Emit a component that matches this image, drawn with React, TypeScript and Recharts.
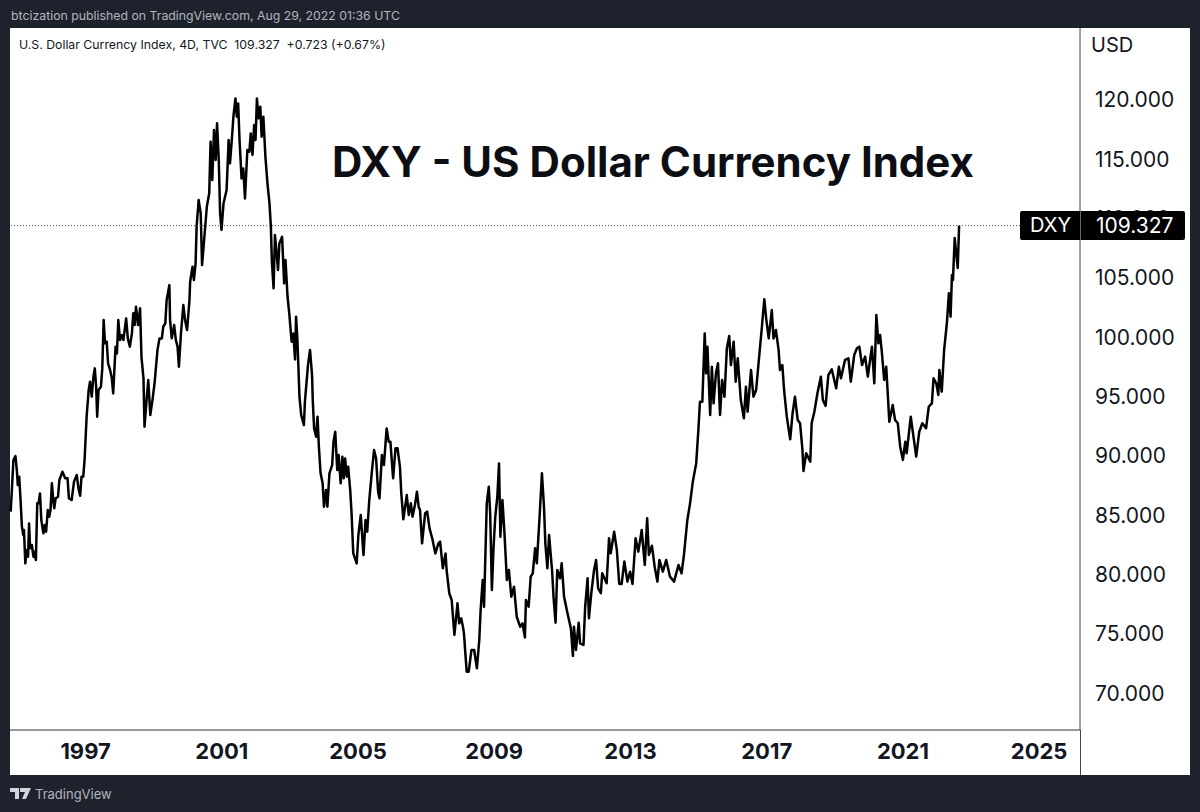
import { Line, LineChart, ReferenceLine, XAxis, YAxis } from 'recharts'

const years = [
  1994.8, 1994.84, 1994.88, 1994.94, 1994.98, 1995.01, 1995.05, 1995.09, 1995.13, 1995.17, 1995.19, 1995.23, 1995.27, 1995.31, 1995.34, 1995.37, 1995.42, 1995.47, 1995.49, 1995.54,
  1995.58, 1995.62, 1995.66, 1995.7, 1995.76, 1995.8, 1995.84, 1995.89, 1995.93, 1995.97, 1996.01, 1996.05, 1996.08, 1996.12, 1996.19, 1996.23, 1996.32, 1996.4, 1996.47, 1996.51,
  1996.59, 1996.66, 1996.74, 1996.79, 1996.84, 1996.88, 1996.93, 1996.97, 1997.03, 1997.09, 1997.13, 1997.18, 1997.23, 1997.27, 1997.31, 1997.34, 1997.38, 1997.45, 1997.49, 1997.53,
  1997.57, 1997.62, 1997.66, 1997.72, 1997.77, 1997.81, 1997.88, 1997.92, 1997.96, 1998.01, 1998.07, 1998.11, 1998.19, 1998.24, 1998.3, 1998.36, 1998.4, 1998.44, 1998.48, 1998.54,
  1998.6, 1998.64, 1998.7, 1998.73, 1998.79, 1998.84, 1998.9, 1998.97, 1999.03, 1999.11, 1999.17, 1999.24, 1999.28, 1999.34, 1999.38, 1999.46, 1999.48, 1999.53, 1999.6, 1999.65,
  1999.7, 1999.74, 1999.8, 1999.87, 1999.92, 1999.98, 2000.05, 2000.07, 2000.14, 2000.18, 2000.23, 2000.26, 2000.32, 2000.38, 2000.42, 2000.48, 2000.56, 2000.63, 2000.67, 2000.72,
  2000.77, 2000.82, 2000.86, 2000.91, 2000.95, 2000.99, 2001.05, 2001.14, 2001.2, 2001.24, 2001.3, 2001.34, 2001.4, 2001.44, 2001.48, 2001.52, 2001.58, 2001.63, 2001.68, 2001.75,
  2001.81, 2001.85, 2001.9, 2001.95, 2001.99, 2002.03, 2002.08, 2002.13, 2002.17, 2002.22, 2002.28, 2002.34, 2002.4, 2002.44, 2002.47, 2002.52, 2002.56, 2002.61, 2002.65, 2002.69,
  2002.77, 2002.83, 2002.87, 2002.93, 2002.98, 2003.05, 2003.1, 2003.15, 2003.18, 2003.22, 2003.28, 2003.33, 2003.41, 2003.44, 2003.53, 2003.59, 2003.65, 2003.67, 2003.71, 2003.77,
  2003.81, 2003.85, 2003.9, 2003.96, 2004.0, 2004.06, 2004.1, 2004.16, 2004.24, 2004.28, 2004.33, 2004.39, 2004.43, 2004.49, 2004.54, 2004.58, 2004.62, 2004.67, 2004.71, 2004.77,
  2004.81, 2004.86, 2004.96, 2005.01, 2005.08, 2005.16, 2005.22, 2005.27, 2005.33, 2005.41, 2005.47, 2005.53, 2005.59, 2005.63, 2005.7, 2005.76, 2005.84, 2005.9, 2005.95, 2006.03,
  2006.1, 2006.16, 2006.23, 2006.27, 2006.33, 2006.43, 2006.49, 2006.55, 2006.6, 2006.67, 2006.73, 2006.78, 2006.82, 2006.88, 2006.97, 2007.03, 2007.1, 2007.19, 2007.27, 2007.36,
  2007.41, 2007.49, 2007.57, 2007.6, 2007.68, 2007.75, 2007.83, 2007.92, 2007.97, 2008.03, 2008.08, 2008.11, 2008.19, 2008.25, 2008.33, 2008.41, 2008.49, 2008.56, 2008.6, 2008.66,
  2008.7, 2008.78, 2008.84, 2008.88, 2008.93, 2008.98, 2009.03, 2009.09, 2009.14, 2009.18, 2009.24, 2009.3, 2009.37, 2009.43, 2009.5, 2009.58, 2009.66, 2009.76, 2009.83, 2009.9,
  2009.93, 2010.01, 2010.07, 2010.13, 2010.2, 2010.25, 2010.32, 2010.4, 2010.46, 2010.5, 2010.56, 2010.61, 2010.7, 2010.74, 2010.8, 2010.85, 2010.93, 2010.98, 2011.05, 2011.15,
  2011.25, 2011.31, 2011.34, 2011.4, 2011.48, 2011.52, 2011.62, 2011.67, 2011.74, 2011.78, 2011.85, 2011.93, 2011.99, 2012.05, 2012.13, 2012.17, 2012.3, 2012.37, 2012.42, 2012.52,
  2012.6, 2012.67, 2012.74, 2012.82, 2012.91, 2012.99, 2013.06, 2013.15, 2013.23, 2013.33, 2013.42, 2013.49, 2013.54, 2013.63, 2013.71, 2013.79, 2013.85, 2013.95, 2014.05, 2014.16,
  2014.28, 2014.41, 2014.5, 2014.57, 2014.67, 2014.75, 2014.83, 2014.93, 2015.0, 2015.04, 2015.11, 2015.18, 2015.22, 2015.26, 2015.34, 2015.39, 2015.44, 2015.51, 2015.57, 2015.63,
  2015.69, 2015.76, 2015.83, 2015.9, 2015.95, 2016.03, 2016.09, 2016.15, 2016.24, 2016.33, 2016.39, 2016.44, 2016.54, 2016.61, 2016.69, 2016.77, 2016.86, 2016.88, 2016.93, 2016.99,
  2017.06, 2017.15, 2017.2, 2017.27, 2017.35, 2017.39, 2017.46, 2017.51, 2017.59, 2017.69, 2017.76, 2017.83, 2017.91, 2017.98, 2018.05, 2018.08, 2018.16, 2018.28, 2018.32, 2018.4,
  2018.49, 2018.59, 2018.65, 2018.73, 2018.81, 2018.91, 2019.04, 2019.12, 2019.18, 2019.3, 2019.4, 2019.47, 2019.57, 2019.65, 2019.72, 2019.8, 2019.89, 2019.97, 2020.09, 2020.16,
  2020.22, 2020.28, 2020.33, 2020.38, 2020.45, 2020.51, 2020.56, 2020.6, 2020.7, 2020.77, 2020.85, 2020.92, 2021.0, 2021.07, 2021.11, 2021.23, 2021.31, 2021.39, 2021.48, 2021.57,
  2021.68, 2021.76, 2021.85, 2021.9, 2021.98, 2022.04, 2022.07, 2022.14, 2022.21, 2022.29, 2022.35, 2022.4, 2022.44, 2022.47, 2022.52, 2022.61, 2022.65,
]

const dxy = [
  85.21, 87.31, 89.56, 89.9, 88.72, 87.45, 88.16, 86.19, 83.94, 83.24, 83.66, 80.85, 81.97, 81.41, 84.22, 82.12, 82.4, 81.41, 81.83, 81.13,
  85.91, 85.91, 86.75, 84.5, 83.38, 84.08, 83.52, 85.35, 84.79, 85.35, 87.6, 86.19, 85.49, 86.33, 86.47, 87.88, 88.58, 88.02, 88.02, 86.33,
  86.19, 87.74, 88.3, 87.17, 86.55, 88.16, 88.16, 89.56, 93.22, 95.46, 96.17, 94.9, 96.59, 97.29, 95.74, 93.22, 95.46, 95.74, 97.29, 101.36,
  99.4, 99.54, 97.71, 97.15, 96.45, 95.18, 99.12, 98.55, 101.36, 99.68, 100.1, 99.68, 101.5, 99.82, 99.12, 100.24, 101.93, 100.94, 102.49, 100.94,
  102.35, 98.27, 96.45, 92.37, 94.62, 96.31, 93.36, 94.76, 96.17, 98.83, 99.82, 99.82, 100.8, 101.08, 103.05, 104.31, 101.36, 99.82, 100.94, 99.68,
  99.12, 97.43, 100.24, 102.63, 101.36, 100.52, 103.05, 104.6, 105.86, 104.74, 106.14, 109.24, 111.48, 110.36, 106.0, 108.11, 110.92, 112.05, 116.4, 113.17,
  117.39, 114.86, 117.95, 114.86, 110.36, 108.96, 111.2, 112.33, 116.54, 114.58, 116.82, 118.51, 120.05, 118.51, 119.63, 116.54, 113.31, 114.15, 111.62, 115.7,
  115.56, 117.1, 115.28, 117.81, 116.54, 120.05, 118.37, 119.35, 116.82, 118.51, 115.14, 112.89, 111.2, 109.24, 106.29, 104.04, 108.53, 106.99, 105.58, 107.83,
  108.39, 104.46, 106.43, 103.33, 101.93, 99.54, 100.24, 98.05, 101.65, 99.68, 94.9, 93.36, 92.51, 94.48, 97.57, 98.84, 96.73, 94.62, 92.23, 91.53,
  93.22, 90.69, 88.44, 87.6, 85.63, 87.03, 85.63, 88.44, 89.14, 91.11, 91.95, 88.72, 89.98, 87.6, 89.84, 88.02, 89.7, 88.16, 89.0, 87.03,
  85.07, 81.69, 80.85, 83.24, 84.93, 81.55, 84.5, 83.52, 86.19, 88.72, 90.4, 89.7, 86.89, 86.33, 89.98, 89.14, 92.23, 91.11, 91.11, 88.02,
  90.55, 90.55, 89.0, 86.75, 84.56, 86.61, 84.93, 85.91, 84.79, 85.77, 86.89, 85.63, 85.35, 82.54, 85.07, 85.21, 83.8, 82.82, 81.69, 82.54,
  82.68, 80.43, 81.69, 80.29, 78.32, 77.76, 74.81, 77.48, 75.79, 76.21, 75.51, 74.95, 71.72, 71.72, 73.55, 73.55, 72.0, 74.39, 76.92, 79.45,
  77.2, 85.91, 87.31, 85.07, 78.6, 82.26, 84.79, 86.47, 89.28, 83.1, 86.19, 83.38, 79.45, 80.29, 78.04, 78.88, 76.35, 75.51, 75.79, 74.61,
  77.76, 77.2, 79.73, 80.01, 82.12, 80.85, 84.22, 88.44, 85.63, 82.54, 80.43, 83.24, 80.15, 78.04, 75.85, 80.29, 79.59, 80.85, 78.04, 76.64,
  75.37, 73.04, 75.51, 73.55, 75.85, 74.11, 73.97, 77.2, 79.59, 76.22, 78.33, 80.29, 81.14, 78.75, 78.33, 80.01, 79.17, 82.96, 81.7, 83.52,
  81.98, 79.11, 79.11, 81.0, 79.31, 80.15, 79.11, 82.96, 81.84, 83.66, 80.71, 84.65, 81.56, 82.34, 80.57, 79.31, 81.14, 80.15, 81.14, 79.73,
  79.31, 80.71, 80.01, 81.56, 84.51, 85.91, 87.74, 89.28, 92.38, 94.48, 94.48, 100.24, 96.87, 99.12, 93.36, 97.43, 94.34, 96.87, 97.72, 93.36,
  96.31, 94.9, 98.98, 100.02, 97.57, 99.54, 96.17, 98.14, 94.62, 93.08, 95.75, 93.64, 97.15, 94.9, 95.47, 98.0, 100.81, 101.51, 103.11, 101.37,
  99.82, 102.21, 99.82, 100.53, 98.84, 97.15, 97.57, 95.47, 93.22, 91.31, 93.5, 94.9, 92.94, 92.66, 90.41, 88.64, 90.13, 89.43, 92.66, 93.64,
  95.19, 96.59, 94.62, 94.12, 96.73, 97.21, 95.61, 97.43, 96.45, 98.0, 98.14, 96.17, 98.42, 98.98, 99.12, 97.57, 98.28, 96.59, 99.12, 96.03,
  101.79, 99.4, 100.1, 98.7, 96.31, 97.43, 94.9, 92.8, 94.2, 92.94, 92.66, 90.69, 89.57, 91.11, 90.13, 93.22, 91.53, 89.85, 91.95, 92.66,
  92.24, 94.06, 94.34, 96.45, 96.03, 95.05, 97.15, 95.33, 98.84, 101.09, 103.62, 101.65, 105.16, 104.74, 108.28, 105.75, 109.327,
]

const yearTicks = [1997, 2001, 2005, 2009, 2013, 2017, 2021, 2025]
const priceTicks = [70, 75, 80, 85, 90, 95, 100, 105, 110, 115, 120]
const lastPrice = 109.327

const data = years.map((year, i) => ({ year, value: dxy[i] }))

const FONT = 'Inter, "Liberation Sans", sans-serif'
const DARK = '#1e222d'
const INK = '#131722'

export default function App() {
  return (
    <div style={{ position: 'absolute', left: 0, top: 0, width: 1200, height: 812, background: DARK, overflow: 'hidden', fontFamily: FONT }}>
      <div style={{ position: 'absolute', left: 10, top: 28, width: 1180, height: 747, background: '#fff' }} />
      <div style={{ position: 'absolute', left: 11, top: 8, fontSize: 12.3, color: '#b2b5be', whiteSpace: 'nowrap' }}>
        btcization published on TradingView.com, Aug 29, 2022 01:36 UTC
      </div>

      <div style={{ position: 'absolute', left: 0, top: 0 }}>
        <LineChart width={1200} height={812} data={data} margin={{ top: 28, right: 10, bottom: 37, left: 10 }}>
          <XAxis
            dataKey="year"
            type="number"
            domain={[1994.78, 2026.2]}
            ticks={yearTicks}
            interval={0}
            height={45}
            tickLine={false}
            axisLine={{ stroke: '#777', strokeWidth: 1.5 }}
            tick={{ fill: INK, fontSize: 22, fontWeight: 700, fontFamily: FONT }}
            tickMargin={7}
          />
          <YAxis
            orientation="right"
            type="number"
            domain={[66.8, 125.99]}
            ticks={priceTicks}
            interval={0}
            width={110}
            tickLine={false}
            axisLine={{ stroke: '#444', strokeWidth: 1 }}
            tick={{ fill: INK, fontSize: 21, fontFamily: FONT, dy: 1 }}
            tickFormatter={(v: number) => v.toFixed(3)}
            tickMargin={9}
          />
          <Line
            type="linear"
            dataKey="value"
            stroke="#000"
            strokeWidth={2.5}
            strokeLinejoin="round"
            dot={false}
            activeDot={false}
            isAnimationActive={false}
          />
          <ReferenceLine y={lastPrice} stroke="#555" strokeDasharray="1 2" />
        </LineChart>
      </div>

      <div style={{ position: 'absolute', left: 19, top: 37, fontSize: 12.3, color: INK, whiteSpace: 'pre' }}>
        U.S. Dollar Currency Index, 4D, TVC  109.327  +0.723 (+0.67%)
      </div>
      <div style={{ position: 'absolute', left: 1091, top: 33, fontSize: 20, color: INK }}>USD</div>
      <div style={{ position: 'absolute', left: 1080, top: 730, width: 1, height: 45, background: '#444' }} />
      <div style={{ position: 'absolute', left: 332, top: 136, fontSize: 42, fontWeight: 700, color: '#0c0e14', whiteSpace: 'nowrap' }}>
        DXY - US Dollar Currency Index
      </div>

      {/* last price tag, sits over the axis and its 110 tick */}
      <div style={{ position: 'absolute', left: 1020, top: 211, width: 165, height: 29, background: '#000', borderRadius: 2, color: '#fff', fontSize: 20, lineHeight: '29px' }}>
        <span style={{ position: 'absolute', left: 10 }}>DXY</span>
        <span style={{ position: 'absolute', left: 60, top: 0, width: 1, height: 29, background: '#666' }} />
        <span style={{ position: 'absolute', left: 76, fontSize: 21 }}>{lastPrice.toFixed(3)}</span>
      </div>

      <svg style={{ position: 'absolute', left: 10, top: 788 }} width={21} height={12} viewBox="0 0 21 12">
        <path d="M0 0h9v11H5V4H0z M10 0h11l-5 11h-4l3-7h-5z" fill="#d1d4dc" />
      </svg>
      <div style={{ position: 'absolute', left: 35, top: 786, fontSize: 13, color: '#b2b5be' }}>TradingView</div>
    </div>
  )
}
